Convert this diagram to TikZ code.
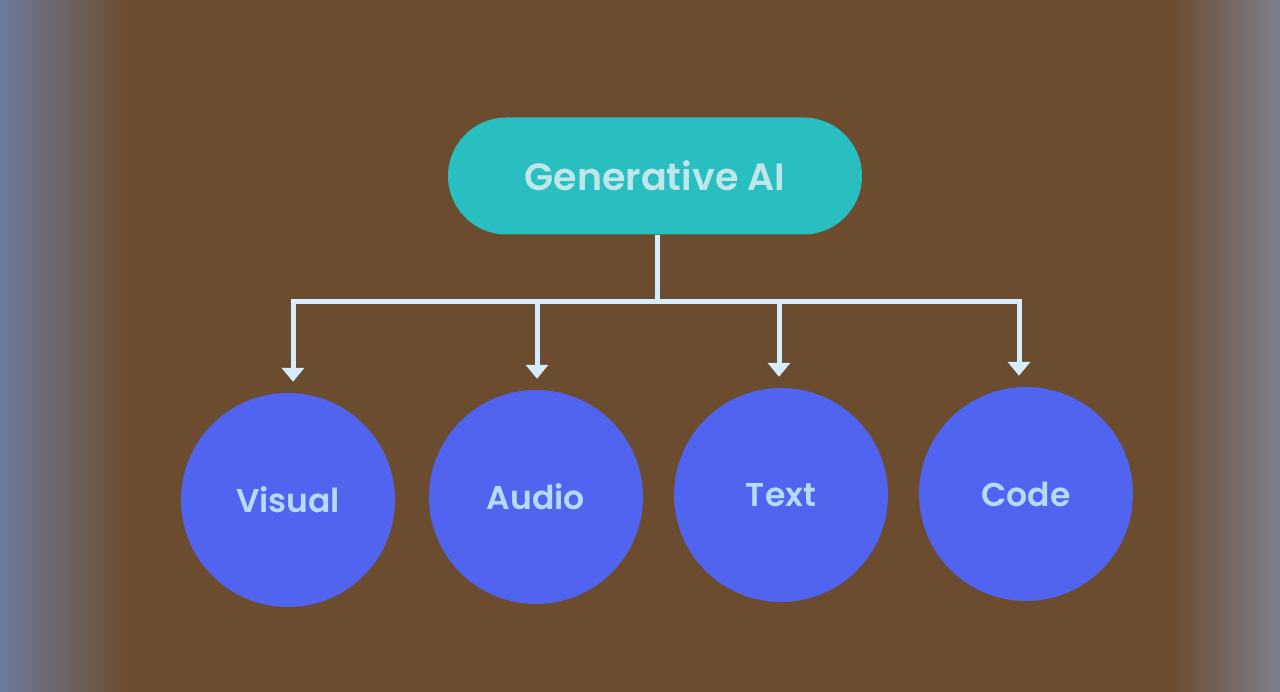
\documentclass[tikz,border=0pt]{standalone}
\usepackage{fontspec}
\IfFontExistsTF{Poppins SemiBold}{\setmainfont{Poppins SemiBold}}{\setmainfont{Poppins}[UprightFont=*-Bold]}
\usetikzlibrary{arrows.meta,shapes.misc,fadings}
\definecolor{bgbrown}{HTML}{6C4C2F}
\definecolor{bgblue}{HTML}{6F8CC0}
\definecolor{pillteal}{HTML}{29BFC1}
\definecolor{pilltext}{HTML}{BFE6EA}
\definecolor{circblue}{HTML}{5064F0}
\definecolor{circtext}{HTML}{B3DCFB}
\definecolor{connc}{HTML}{D6ECFF}
\tikzset{
  pill/.style={rounded rectangle, fill=pillteal, minimum width=414pt, minimum height=117pt, text=pilltext, font=\fontsize{38}{44}\selectfont, inner sep=0pt},
  topic/.style={circle, fill=circblue, minimum size=214pt, text=circtext, font=\fontsize{33}{38}\selectfont, inner sep=0pt},
  conn/.style={draw=connc, line width=5pt},
  arr/.style={conn, -{Triangle[width=22pt,length=14pt]}, shorten >=11pt},
}
\begin{document}
\begin{tikzpicture}[x=1pt,y=-1pt]
\fill[bgbrown] (0,0) rectangle (1280,692);
\fill[bgblue, opacity=0.75, path fading=east] (0,0) rectangle (130,692);
\fill[bgblue!80!white, opacity=0.6, path fading=west] (1170,0) rectangle (1280,692);
\useasboundingbox (0,0) rectangle (1280,692);

\node[pill] (g) at (655,176) {Generative AI};
\node[topic] (v) at (288,500) {Visual};
\node[topic] (a) at (536,497) {Audio};
\node[topic] (t) at (781,495) {Text};
\node[topic] (c) at (1026,494) {Code};

\coordinate (hub) at (657,302);
\coordinate (bv) at (293,302);
\coordinate (ba) at (537,302);
\coordinate (bt) at (779,302);
\coordinate (bc) at (1019,302);

\draw[conn] (g.south -| hub) -- (hub);
\draw[conn, line cap=rect] (bv) -- (bc);
\draw[arr] (bv) -- (bv |- v.north);
\draw[arr] (ba) -- (ba |- a.north);
\draw[arr] (bt) -- (bt |- t.north);
\draw[arr] (bc) -- (bc |- c.north);
\end{tikzpicture}
\end{document}
